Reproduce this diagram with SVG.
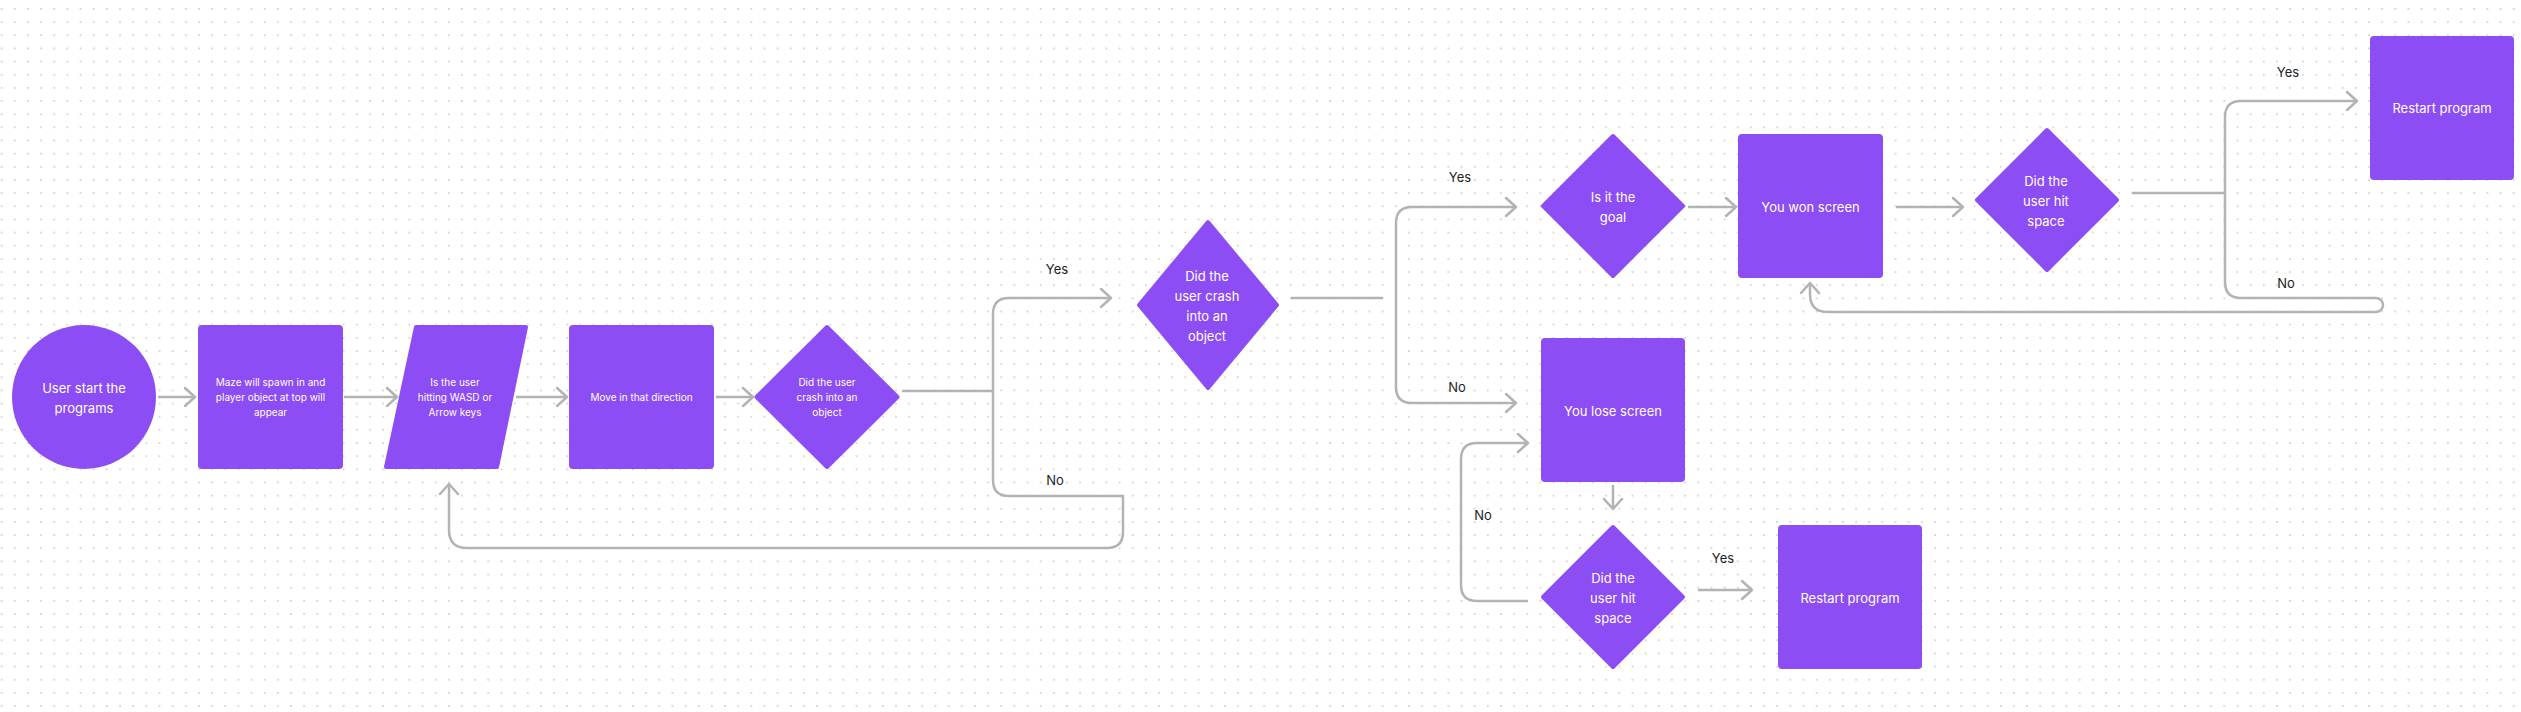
<svg xmlns="http://www.w3.org/2000/svg" width="2521" height="712" viewBox="0 0 2521 712">
<defs>
<pattern id="dots" patternUnits="userSpaceOnUse" x="-4.9" y="2.42" width="13.152" height="13.152">
<circle cx="6.576" cy="6.576" r="0.9" fill="#c9c9c9"/>
</pattern>
<marker id="ah" markerUnits="userSpaceOnUse" markerWidth="14" markerHeight="24" viewBox="-12 -12 14 24" refX="0" refY="0" orient="auto">
<path d="M -10 -9 L 0 0 L -10 9" fill="none" stroke="#b3b3b3" stroke-width="2.5" stroke-linecap="round" stroke-linejoin="round"/>
</marker>
</defs>
<style>
.shape{fill:#8d4df5;stroke:#8d4df5;stroke-width:4;stroke-linejoin:round}
.box{fill:#8d4df5}
.t{font-family:Inter,"Noto Sans","Liberation Sans",sans-serif;fill:#ffffff;text-anchor:middle;dominant-baseline:central}
.big{font-size:13px}
.small{font-size:10px}
.lbl{font-family:Inter,"Noto Sans","Liberation Sans",sans-serif;font-size:13px;fill:#1e1e1e;text-anchor:middle;dominant-baseline:central}
.c{fill:none;stroke:#b3b3b3;stroke-width:2.5}
.a{marker-end:url(#ah)}
</style>
<rect width="2521" height="712" fill="#ffffff"/>
<rect width="2521" height="712" fill="url(#dots)"/>

<g id="connectors">
<path class="c a" d="M 158 397 H 195"/>
<path class="c a" d="M 344 397 H 397"/>
<path class="c a" d="M 516 397 H 567"/>
<path class="c a" d="M 716 397 H 753"/>
<path class="c" d="M 902 391 H 993"/>
<path class="c a" d="M 993 391 V 314 Q 993 298 1009 298 H 1111"/>
<path class="c a" d="M 993 391 V 480 Q 993 496 1009 496 H 1123 V 532 Q 1123 548 1107 548 H 467 Q 449 548 449 530 V 484"/>
<path class="c" d="M 1291 298 H 1383"/>
<path class="c a" d="M 1396 305 V 223 Q 1396 207 1412 207 H 1516"/>
<path class="c a" d="M 1396 305 V 387 Q 1396 403 1412 403 H 1516"/>
<path class="c a" d="M 1688 207 H 1736"/>
<path class="c a" d="M 1896 207 H 1963"/>
<path class="c" d="M 2132 193 H 2225"/>
<path class="c a" d="M 2225 193 V 117 Q 2225 101 2241 101 H 2357"/>
<path class="c a" d="M 2225 193 V 282 Q 2225 298 2241 298 H 2376 A 7 7 0 0 1 2376 312 H 1828 Q 1810 312 1810 294 V 283"/>
<path class="c a" d="M 1613 485 V 509"/>
<path class="c a" d="M 1528 601 H 1477 Q 1461 601 1461 585 V 459 Q 1461 443 1477 443 H 1528"/>
<path class="c a" d="M 1698 590 H 1752"/>
<text class="lbl" x="1057" y="269">Yes</text>
<text class="lbl" x="1055" y="480">No</text>
<text class="lbl" x="1460" y="177">Yes</text>
<text class="lbl" x="1457" y="387">No</text>
<text class="lbl" x="2288" y="72">Yes</text>
<text class="lbl" x="2286" y="283">No</text>
<text class="lbl" x="1483" y="515">No</text>
<text class="lbl" x="1723" y="558">Yes</text>
</g>

<g id="start">
<circle cx="84" cy="397" r="72" class="box"/>
<text class="t big" x="84"><tspan x="84" y="387.5">User start the</tspan><tspan x="84" y="407.5">programs</tspan></text>
</g>

<g id="maze">
<rect x="198" y="325" width="145" height="144" rx="4" class="box"/>
<text class="t small"><tspan x="270.5" y="382">Maze will spawn in and</tspan><tspan x="270.5" y="397">player object at top will</tspan><tspan x="270.5" y="412">appear</tspan></text>
</g>

<g id="input">
<polygon points="416,327 526,327 497,467 386,467" class="shape"/>
<text class="t small"><tspan x="455" y="382">Is the user</tspan><tspan x="455" y="397">hitting WASD or</tspan><tspan x="455" y="412">Arrow keys</tspan></text>
</g>

<g id="move">
<rect x="569" y="325" width="145" height="144" rx="4" class="box"/>
<text class="t small" x="641.5" y="397">Move in that direction</text>
</g>

<g id="crash1">
<polygon points="827,327 897.5,397 827,467 756.5,397" class="shape"/>
<text class="t small"><tspan x="827" y="382">Did the user</tspan><tspan x="827" y="397">crash into an</tspan><tspan x="827" y="412">object</tspan></text>
</g>

<g id="crash2">
<polygon points="1208,222 1277,305 1208,388 1139,305" class="shape"/>
<text class="t big"><tspan x="1207" y="276">Did the</tspan><tspan x="1207" y="296">user crash</tspan><tspan x="1207" y="316">into an</tspan><tspan x="1207" y="336">object</tspan></text>
</g>

<g id="goal">
<polygon points="1613,136 1683,206 1613,276 1543,206" class="shape"/>
<text class="t big"><tspan x="1613" y="197">Is it the</tspan><tspan x="1613" y="217">goal</tspan></text>
</g>

<g id="won">
<rect x="1738" y="134" width="145" height="144" rx="4" class="box"/>
<text class="t big" x="1810.5" y="207">You won screen</text>
</g>

<g id="space1">
<polygon points="2047,130 2117,200 2047,270 1977,200" class="shape"/>
<text class="t big"><tspan x="2046" y="181">Did the</tspan><tspan x="2046" y="201">user hit</tspan><tspan x="2046" y="221">space</tspan></text>
</g>

<g id="restart1">
<rect x="2370" y="36" width="144" height="144" rx="4" class="box"/>
<text class="t big" x="2442" y="108">Restart program</text>
</g>

<g id="lose">
<rect x="1541" y="338" width="144" height="144" rx="4" class="box"/>
<text class="t big" x="1613" y="411">You lose screen</text>
</g>

<g id="space2">
<polygon points="1613,527 1683,597 1613,667 1543,597" class="shape"/>
<text class="t big"><tspan x="1613" y="578">Did the</tspan><tspan x="1613" y="598">user hit</tspan><tspan x="1613" y="618">space</tspan></text>
</g>

<g id="restart2">
<rect x="1778" y="525" width="144" height="144" rx="4" class="box"/>
<text class="t big" x="1850" y="598">Restart program</text>
</g>
</svg>
